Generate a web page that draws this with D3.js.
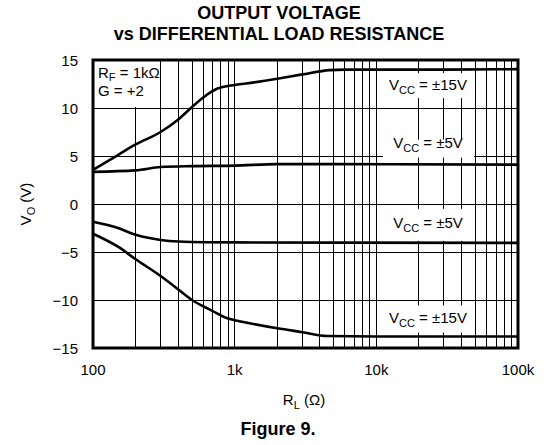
<!DOCTYPE html>
<html><head><meta charset="utf-8">
<script src="https://cdn.jsdelivr.net/npm/d3@7"></script>
<style>body{margin:0;background:#fff}svg{display:block}text{font-family:"Liberation Sans",Arial,sans-serif;fill:#000}</style>
</head><body><svg id="c" width="554" height="445"></svg>
<script>
// Data
const r15Pos = [100,150,200,300,400,500,600,750,1000,1200,2000,3000,4700,6000,10000,30000,100000];
const v15Pos = [3.55,5.1,6.2,7.5,8.8,10.1,11.1,12.0,12.4,12.55,13.05,13.5,13.95,14.0,14.0,14.0,14.05];
const r5Pos = [100,200,300,500,1000,2000,5000,100000];
const v5Pos = [3.35,3.5,3.85,3.95,4.0,4.15,4.15,4.1];
const r5Neg = [100,150,200,250,300,400,1000,100000];
const v5Neg = [-1.85,-2.5,-3.2,-3.55,-3.75,-3.9,-4.0,-4.05];
const r15Neg = [100,150,200,300,400,500,700,850,1000,1200,2000,3000,4500,10000,100000];
const v15Neg = [-3.1,-4.45,-5.75,-7.5,-8.9,-10.0,-11.15,-11.8,-12.1,-12.35,-12.95,-13.35,-13.75,-13.8,-13.8];
const xTicks = [100,1000,10000,100000];
const xTickLabels = ["100","1k","10k","100k"];
const yTicks = [-15,-10,-5,0,5,10,15];
const yTickLabels = ["−15","−10","−5","0","5","10","15"];
const labels = [
  {text:"±15V", v:14.05},
  {text:"±5V", v:4.1},
  {text:"±5V", v:-4.05},
  {text:"±15V", v:-13.8}
];

const svg = d3.select("#c");
const L=93, R=518, T=60, B=348;
const x = d3.scaleLog().domain([100,100000]).range([L,R]);
const y = d3.scaleLinear().domain([-15,15]).range([B,T]);

// grid
const minor=[];
for (let k=100;k<100000;k*=10) for(let n=1;n<10;n++) minor.push(n*k);
minor.push(100000);
svg.append("g").selectAll("line").data(minor).join("line")
  .attr("x1",d=>x(d)).attr("x2",d=>x(d)).attr("y1",T).attr("y2",B)
  .attr("stroke","#000").attr("stroke-width",1).attr("shape-rendering","crispEdges");
svg.append("g").selectAll("line").data(yTicks).join("line")
  .attr("x1",L).attr("x2",R).attr("y1",d=>y(d)).attr("y2",d=>y(d))
  .attr("stroke","#000").attr("stroke-width",1).attr("shape-rendering","crispEdges");

// white boxes for annotation
svg.append("rect").attr("x",L).attr("y",T).attr("width",60).attr("height",y(10)-T-1).attr("fill","#fff");
labels.forEach((lb,i)=>{
  const cy = y(lb.v);
  let top, bot;
  if (lb.v>0){ top = cy + (i===0?4:-25); bot = cy + (i===0?29:-7);} 
  else { top = cy + (i===2?-34:-31); bot = cy + (i===2?-2:-4);} 
  svg.append("rect").attr("x",383).attr("y",top).attr("width",91).attr("height",bot-top).attr("fill","#fff");
  const t = svg.append("text").attr("x",428).attr("y",lb.v>0?(i===0?cy+21:cy-17):(i===2?cy-15:cy-13))
    .attr("text-anchor","middle").attr("font-size",15);
  t.append("tspan").text("V");
  t.append("tspan").attr("font-size",11).attr("dy",4).text("CC");
  t.append("tspan").attr("dy",-4).text(" = "+lb.text);
});

// curves
const line = d3.line().x(d=>x(d[0])).y(d=>y(d[1])).curve(d3.curveMonotoneX);
[[r15Pos,v15Pos],[r5Pos,v5Pos],[r5Neg,v5Neg],[r15Neg,v15Neg]].forEach(([rs,vs])=>{
  svg.append("path").datum(rs.map((r,i)=>[r,vs[i]])).attr("d",line)
    .attr("fill","none").attr("stroke","#000").attr("stroke-width",2.6);
});

// frame
svg.append("rect").attr("x",L).attr("y",T).attr("width",R-L).attr("height",B-T)
  .attr("fill","none").attr("stroke","#000").attr("stroke-width",3);

// RF label
const t1 = svg.append("text").attr("x",98).attr("y",78).attr("font-size",15);
t1.append("tspan").text("R");
t1.append("tspan").attr("font-size",11).attr("dy",3).text("F");
t1.append("tspan").attr("dy",-3).text(" = 1kΩ");
svg.append("text").attr("x",98).attr("y",96).attr("font-size",15).text("G = +2");

// tick labels
svg.append("g").selectAll("text").data(yTicks).join("text")
  .attr("x",78).attr("y",d=>y(d)+5.5).attr("text-anchor","end").attr("font-size",15)
  .text((d,i)=>yTickLabels[i]);
svg.append("g").selectAll("text").data(xTicks).join("text")
  .attr("x",d=>x(d)).attr("y",375).attr("text-anchor","middle").attr("font-size",15)
  .text((d,i)=>xTickLabels[i]);

// axis titles
const xt = svg.append("text").attr("x",304).attr("y",405).attr("text-anchor","middle").attr("font-size",15);
xt.append("tspan").text("R");
xt.append("tspan").attr("font-size",11).attr("dy",4).text("L");
xt.append("tspan").attr("dy",-4).text(" (Ω)");
const yt = svg.append("text").attr("transform","translate(31,204) rotate(-90)").attr("text-anchor","middle").attr("font-size",15);
yt.append("tspan").text("V");
yt.append("tspan").attr("font-size",11).attr("dy",4).text("O");
yt.append("tspan").attr("dy",-4).text(" (V)");

// titles
svg.append("text").attr("x",279).attr("y",19).attr("text-anchor","middle").attr("font-size",18).attr("font-weight","bold").text("OUTPUT VOLTAGE");
svg.append("text").attr("x",279).attr("y",40).attr("text-anchor","middle").attr("font-size",18).attr("font-weight","bold").text("vs DIFFERENTIAL LOAD RESISTANCE");
svg.append("text").attr("x",278).attr("y",435).attr("text-anchor","middle").attr("font-size",18).attr("font-weight","bold").text("Figure 9.");
</script></body></html>
